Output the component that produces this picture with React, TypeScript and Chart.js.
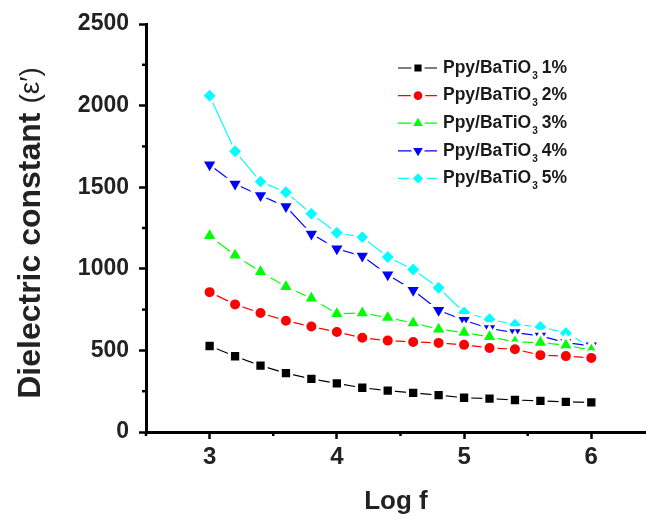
import React, { useEffect, useRef } from 'react';
import { Chart, registerables } from 'chart.js';
import { drawPoint } from 'chart.js/helpers';

Chart.register(...registerables);

const logF = [3.0, 3.2, 3.4, 3.6, 3.8, 4.0, 4.2, 4.4, 4.6, 4.8, 5.0, 5.2, 5.4, 5.6, 5.8, 6.0];
const ppy1 = [527, 464, 407, 361, 326, 298, 271, 253, 240, 226, 210, 204, 196, 191, 185, 181];
const ppy2 = [857, 782, 729, 682, 646, 613, 577, 560, 552, 546, 534, 515, 507, 471, 465, 454];
const ppy3 = [1202, 1083, 982, 890, 820, 725, 729, 701, 668, 630, 609, 583, 552, 548, 532, 501];
const ppy4 = [1638, 1520, 1449, 1381, 1214, 1123, 1078, 964, 868, 746, 685, 634, 609, 589, 548, 528];
const ppy5 = [2060, 1720, 1534, 1469, 1337, 1221, 1194, 1072, 996, 884, 732, 691, 658, 644, 607, 521];

const seriesLabels = ['1%', '2%', '3%', '4%', '5%'];
const xTicks = [3, 4, 5, 6];
const xMinorTicks = [2.5, 3.5, 4.5, 5.5];
const yMinorTicks = [250, 750, 1250, 1750, 2250];
const yTitleMain = 'Dielectric constant ';
const yTitleSymbol = '(ε′)';

const FONT = "'Liberation Sans', Arial, sans-serif";

const styles = [
  { color: '#000000', pointStyle: 'rect', radius: 8, rotation: 0 },
  { color: '#ff0000', pointStyle: 'circle', radius: 6.5, rotation: 0 },
  { color: '#00ff00', pointStyle: 'triangle', radius: 9.5, rotation: 0 },
  { color: '#0000ff', pointStyle: 'triangle', radius: 9.5, rotation: 180 },
  { color: '#00ffff', pointStyle: 'rectRot', radius: 8, rotation: 0 },
];

const seriesValues = [ppy1, ppy2, ppy3, ppy4, ppy5];

const extrasPlugin = {
  id: 'extras',
  afterDraw(chart: any) {
    const ctx = chart.ctx as CanvasRenderingContext2D;
    const xs = chart.scales.x;
    const ys = chart.scales.y;
    ctx.save();
    ctx.strokeStyle = '#000';
    ctx.lineWidth = 2.5;
    const ax = chart.chartArea.left;
    const ay = chart.chartArea.bottom;
    yMinorTicks.forEach((v) => {
      const py = ys.getPixelForValue(v);
      ctx.beginPath();
      ctx.moveTo(ax - 4, py);
      ctx.lineTo(ax, py);
      ctx.stroke();
    });
    xMinorTicks.forEach((v) => {
      const px = xs.getPixelForValue(v);
      ctx.beginPath();
      ctx.moveTo(px, ay);
      ctx.lineTo(px, ay + 4);
      ctx.stroke();
    });
    // y title with mixed weights
    ctx.save();
    ctx.translate(31, 233);
    ctx.rotate(-Math.PI / 2);
    ctx.fillStyle = '#222';
    ctx.textBaseline = 'middle';
    ctx.textAlign = 'left';
    ctx.font = `bold 32px ${FONT}`;
    const w1 = ctx.measureText(yTitleMain).width;
    ctx.font = `28px ${FONT}`;
    const w2 = ctx.measureText(yTitleSymbol).width;
    const start = -(w1 + w2) / 2;
    ctx.font = `bold 32px ${FONT}`;
    ctx.fillText(yTitleMain, start, 0);
    ctx.font = `28px ${FONT}`;
    ctx.fillText(yTitleSymbol, start + w1, 0);
    ctx.restore();
    // legend
    styles.forEach((s, i) => {
      const y = 68 + i * 27.6;
      ctx.strokeStyle = s.color;
      ctx.lineWidth = 1.2;
      ctx.beginPath();
      ctx.moveTo(398, y);
      ctx.lineTo(437, y);
      ctx.stroke();
      ctx.fillStyle = s.color;
      ctx.strokeStyle = '#ffffff';
      ctx.lineWidth = 3;
      drawPoint(ctx, { pointStyle: s.pointStyle as any, radius: s.radius * 0.9, rotation: s.rotation, borderWidth: 3 }, 418, y);
      ctx.fillStyle = '#1a1a1a';
      ctx.textBaseline = 'middle';
      ctx.textAlign = 'left';
      ctx.font = `bold 17.5px ${FONT}`;
      const main = 'Ppy/BaTiO';
      ctx.fillText(main, 443, y);
      let x = 443 + ctx.measureText(main).width + 1;
      ctx.font = `bold 10px ${FONT}`;
      ctx.fillText('3', x, y + 8);
      x += ctx.measureText('3').width + 4;
      ctx.font = `bold 17.5px ${FONT}`;
      ctx.fillText(seriesLabels[i], x, y);
    });
    ctx.restore();
  },
};

export default function App() {
  const ref = useRef<HTMLCanvasElement>(null);
  useEffect(() => {
    document.body.style.margin = '0';
    const canvas = ref.current!;
    const chart = new Chart(canvas, {
      type: 'line',
      data: {
        datasets: seriesValues.map((vals, i) => ({
          label: 'Ppy/BaTiO3 ' + seriesLabels[i],
          data: logF.map((x, j) => ({ x, y: vals[j] })),
          borderColor: styles[i].color,
          backgroundColor: styles[i].color,
          borderWidth: 1.2,
          pointStyle: styles[i].pointStyle as any,
          pointRadius: styles[i].radius,
          pointRotation: styles[i].rotation,
          pointBackgroundColor: styles[i].color,
          pointBorderColor: '#ffffff',
          pointBorderWidth: 3,
          tension: 0,
          fill: false,
        })),
      },
      options: {
        responsive: false,
        animation: false,
        events: [],
        layout: { autoPadding: false, padding: { top: 24, right: 0, left: 0, bottom: 0 } },
        plugins: {
          legend: { display: false },
          tooltip: { enabled: false },
        },
        scales: {
          x: {
            type: 'linear',
            min: 2.5,
            max: 6.43,
            afterBuildTicks: (scale: any) => {
              scale.ticks = xTicks.map((v) => ({ value: v }));
            },
            afterFit: (scale: any) => {
              scale.height = 87;
              scale.paddingLeft = 0;
              scale.paddingRight = 0;
            },
            grid: {
              drawOnChartArea: false,
              drawTicks: true,
              tickLength: 7,
              tickWidth: 2.5,
              tickColor: '#000',
            },
            border: { display: true, width: 3, color: '#000' },
            ticks: {
              color: '#222',
              padding: 4,
              font: { family: FONT, size: 24, weight: 'bold' },
              callback: (v: any) => String(v),
            },
            title: {
              display: true,
              text: 'Log f',
              color: '#222',
              padding: { top: 0, bottom: 2 },
              font: { family: FONT, size: 26, weight: 'bold' },
            },
          },
          y: {
            type: 'linear',
            min: 0,
            max: 2500,
            ticks: {
              stepSize: 500,
              color: '#222',
              padding: 10,
              font: { family: FONT, size: 23, weight: 'bold' },
              callback: (v: any) => String(v),
            },
            afterFit: (scale: any) => {
              scale.width = 146;
              scale.paddingTop = 0;
              scale.paddingBottom = 0;
            },
            grid: {
              drawOnChartArea: false,
              drawTicks: true,
              tickLength: 7,
              tickWidth: 2.5,
              tickColor: '#000',
            },
            border: { display: true, width: 3, color: '#000' },
            title: { display: false },
          },
        },
      },
      plugins: [extrasPlugin],
    });
    return () => chart.destroy();
  }, []);
  return (
    <div style={{ width: 646, height: 519 }}>
      <canvas ref={ref} width={646} height={519} />
    </div>
  );
}
